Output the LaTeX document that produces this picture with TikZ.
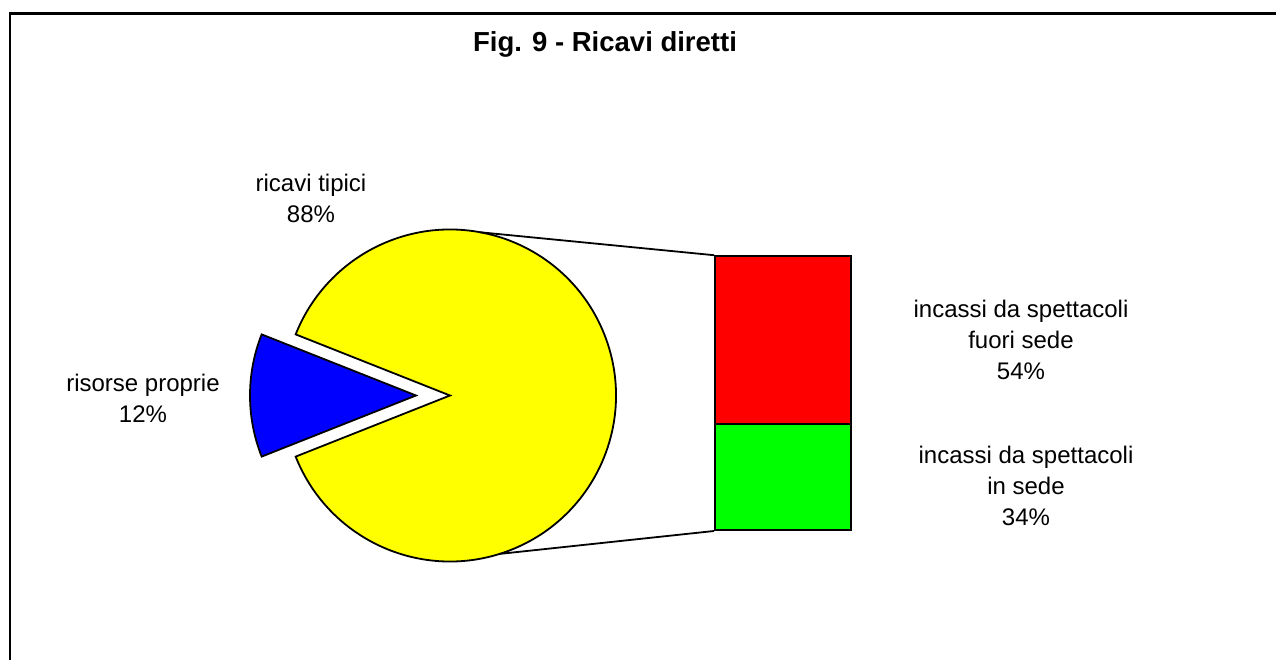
\documentclass[tikz,border=0pt]{standalone}
\usepackage{fontspec}
\setmainfont{Liberation Sans}
\usetikzlibrary{calc}
\definecolor{pieyellow}{RGB}{255,255,0}
\definecolor{pieblue}{RGB}{0,0,255}
\definecolor{barred}{RGB}{255,0,0}
\definecolor{bargreen}{RGB}{0,255,0}
\begin{document}
\begin{tikzpicture}[x=1pt,y=1pt,
  slice/.style={draw=black,line width=1.8pt,line join=miter},
  barbox/.style={draw=black,line width=1.8pt,minimum width=136pt,inner sep=0pt,anchor=south west},
  lbl/.style={align=center,font=\fontsize{24}{31}\selectfont,inner sep=0pt},
  ttl/.style={font=\bfseries\fontsize{27.5}{33}\selectfont,inner sep=0pt}]
\useasboundingbox (0,0) rectangle (1276,659);
\fill[white] (0,0) rectangle (1276,659);
% frame (only top and left edges visible)
\draw[line width=2.5pt,line join=miter] (10,-5) -- (10,645.5) -- (1290,645.5);
% title
\node[ttl,anchor=base] (title) at (605,607) {Fig. 9 - Ricavi diretti};
% pie
\coordinate (c) at (450,263.5);
\coordinate (cb) at (416,263.5);
\fill[pieyellow] (c) -- ++(201.6:166) arc[start angle=201.6,end angle=518.4,radius=166] -- cycle;
\draw[slice] (c) -- ++(201.6:166) arc[start angle=201.6,end angle=518.4,radius=166] -- cycle;
\draw[slice,fill=pieblue] (cb) -- ++(158.4:166) arc[start angle=158.4,end angle=201.6,radius=166] -- cycle;
% bar
\node[barbox,fill=barred,minimum height=168pt] (red) at (714,234) {};
\node[barbox,fill=bargreen,minimum height=106pt] (green) at (714,128) {};
% connector lines
\coordinate (pt) at ($(c)+(79.5:166)$);
\coordinate (pb) at ($(c)+(-72.6:166)$);
\draw[line width=1.8pt] (pt) -- (red.north west);
\draw[line width=1.8pt] (pb) -- (green.south west);
% labels
\node[lbl] (l1) at (311,461) {ricavi tipici\\88\%};
\node[lbl] (l2) at (143,261) {risorse proprie\\12\%};
\node[lbl] (l3) at (1021,319) {incassi da spettacoli\\fuori sede\\54\%};
\node[lbl] (l4) at (1026,173) {incassi da spettacoli\\in sede\\34\%};
\end{tikzpicture}
\end{document}
